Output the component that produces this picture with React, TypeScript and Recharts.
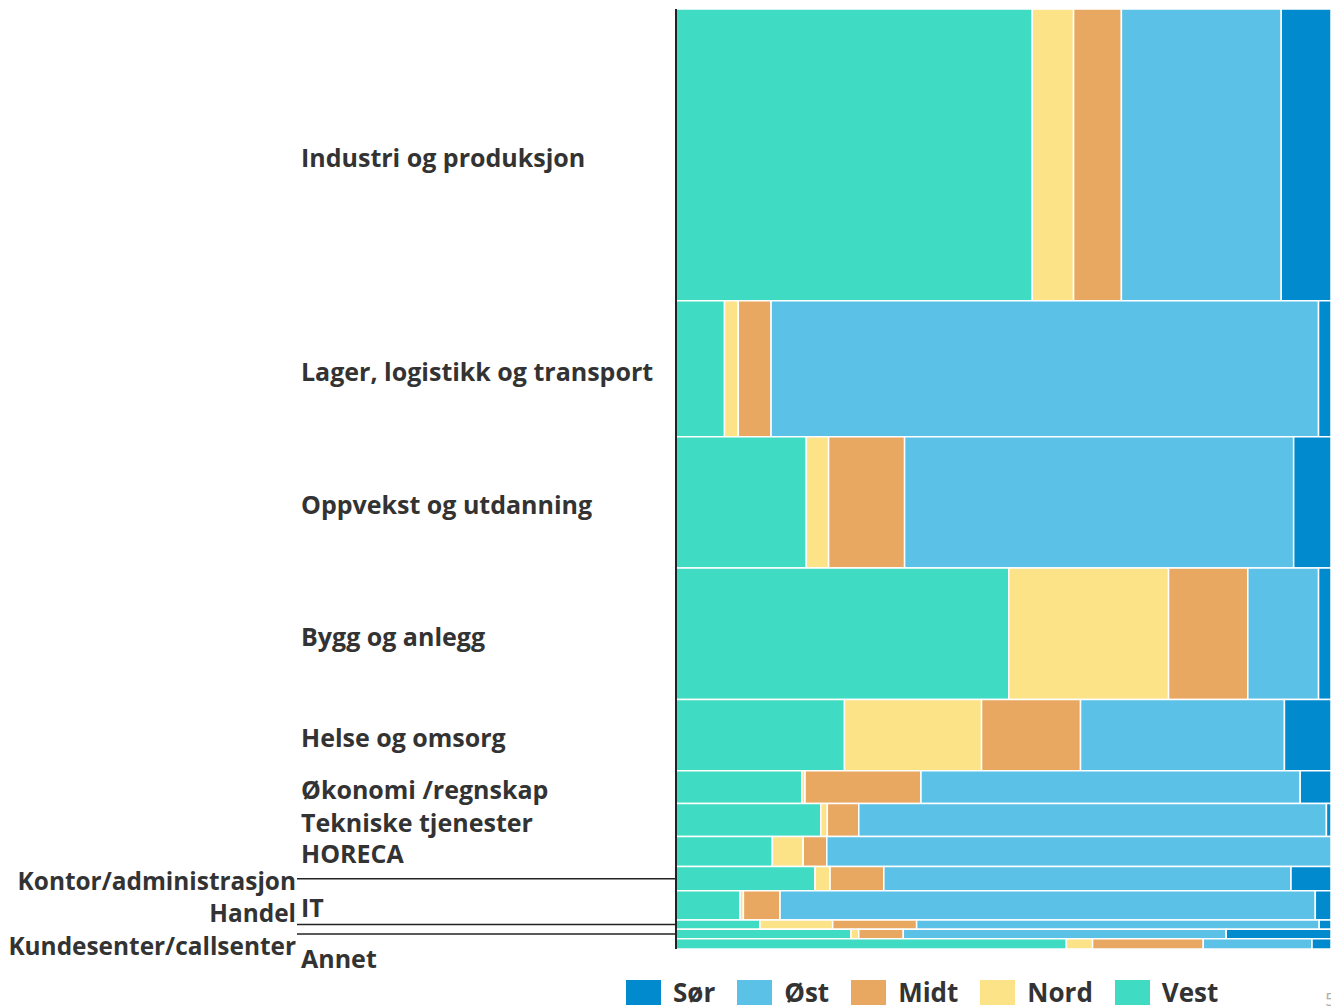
import { ComposedChart, XAxis, YAxis, ReferenceArea, Legend } from "recharts"

// sectors, top to bottom
const sectors = [
  "Industri og produksjon",
  "Lager, logistikk og transport",
  "Oppvekst og utdanning",
  "Bygg og anlegg",
  "Helse og omsorg",
  "Økonomi /regnskap",
  "Tekniske tjenester",
  "HORECA",
  "Kontor/administrasjon",
  "IT",
  "Handel",
  "Kundesenter/callsenter",
  "Annet",
]

// share of all respondents (row height), %
const sectorShare = [31.1, 14.5, 14.0, 14.0, 7.6, 3.5, 3.5, 3.2, 2.6, 3.1, 1.0, 1.0, 1.1]

// share of each region within a sector, %
const vest = [54.4, 7.4, 19.9, 50.8, 25.7, 19.2, 22.1, 14.7, 21.2, 9.8, 12.8, 26.7, 59.6]
const nord = [6.3, 2.1, 3.4, 24.4, 20.9, 0.5, 1.0, 4.7, 2.3, 0.5, 11.1, 1.2, 4.0]
const midt = [7.3, 5.0, 11.6, 12.1, 15.1, 17.7, 4.8, 3.6, 8.2, 5.6, 12.8, 6.8, 16.9]
const ost = [24.4, 83.5, 59.4, 10.8, 31.1, 57.9, 71.4, 76.9, 62.1, 81.8, 61.4, 49.3, 16.6]
const sor = [7.6, 1.9, 5.7, 1.9, 7.1, 4.7, 0.7, 0.0, 6.1, 2.4, 1.8, 16.0, 2.9]

const regions = ["Vest", "Nord", "Midt", "Øst", "Sør"]
const regionValues = [vest, nord, midt, ost, sor]
const regionColors = ["#3fdbc3", "#fce388", "#e8a862", "#5bc1e7", "#018bce"]

const total = sectorShare.reduce((a, b) => a + b, 0)

const rows = sectors.map((name, i) => {
  const top = sectorShare.slice(0, i).reduce((a, b) => a + b, 0)
  return { name, top, bottom: top + sectorShare[i], mid: top + sectorShare[i] / 2 }
})

const cells = rows.flatMap((row, i) => {
  const rowSum = regionValues.reduce((s, vals) => s + vals[i], 0)
  let acc = 0
  return regionValues.map((vals, r) => {
    const x1 = (acc / rowSum) * 100
    acc += vals[i]
    const x2 = (acc / rowSum) * 100
    return { key: `${i}-${r}`, x1, x2, y1: row.top, y2: row.bottom, fill: regionColors[r] }
  })
})

const font = "'Open Sans', 'Noto Sans', sans-serif"
const textColor = "#333333"

// labels placed left of the axis with a leader line
const outside = ["Kontor/administrasjon", "Handel", "Kundesenter/callsenter"]
const labelShift: Record<string, number> = {
  "Kontor/administrasjon": 2,
  Handel: -12,
  "Kundesenter/callsenter": 12,
  Annet: 14,
}

function SectorTick(props: any) {
  const { x, y, payload } = props
  const row = rows.find((r) => Math.abs(r.mid - payload.value) < 1e-9)
  if (!row) return null
  const dy = labelShift[row.name] ?? 2
  const isOutside = outside.includes(row.name)
  return (
    <g>
      {isOutside && <line x1={x - 379} x2={x} y1={y} y2={y} stroke="#222" strokeWidth={1.5} />}
      <text
        x={isOutside ? x - 380 : x - 375}
        y={y + dy}
        textAnchor={isOutside ? "end" : "start"}
        dominantBaseline="central"
        fontFamily={font}
        fontWeight={700}
        fontSize={isOutside ? 24.4 : 25}
        fill={textColor}
      >
        {row.name}
      </text>
    </g>
  )
}

function RegionLegend() {
  const order = [4, 3, 2, 1, 0]
  return (
    <div style={{ display: "flex", alignItems: "center", gap: 22, fontFamily: font, lineHeight: "28px" }}>
      {order.map((r) => (
        <div key={regions[r]} style={{ display: "flex", alignItems: "center", gap: 12 }}>
          <span style={{ width: 35, height: 25, background: regionColors[r], display: "inline-block" }} />
          <span style={{ fontSize: 26, fontWeight: 700, color: textColor }}>{regions[r]}</span>
        </div>
      ))}
    </div>
  )
}

export default function App() {
  return (
    <div style={{ position: "relative", width: 1331, height: 998, fontFamily: font }}>
      <ComposedChart
        width={1331}
        height={998}
        data={rows}
        margin={{ top: 1, right: 8, bottom: 57, left: 0 }}
        style={{ overflow: "visible" }}
      >
        <XAxis type="number" dataKey="mid" domain={[0, 100]} hide />
        <YAxis
          type="number"
          dataKey="mid"
          domain={[0, total]}
          reversed
          ticks={rows.map((r) => r.mid)}
          interval={0}
          width={668}
          tickLine={false}
          tickSize={0}
          tickMargin={0}
          axisLine={{ stroke: "#222", strokeWidth: 2 }}
          tick={<SectorTick />}
        />
        {cells.map((c) => (
          <ReferenceArea
            key={c.key}
            x1={c.x1}
            x2={c.x2}
            y1={c.y1}
            y2={c.y2}
            fill={c.fill}
            fillOpacity={1}
            stroke="#ffffff"
            strokeWidth={1.5}
            ifOverflow="visible"
          />
        ))}
        <Legend
          layout="horizontal"
          verticalAlign="middle"
          align="center"
          content={() => <RegionLegend />}
          wrapperStyle={{ left: 618, top: 970, width: 680 }}
        />
      </ComposedChart>
      <span
        style={{
          position: "absolute",
          left: 1317,
          top: 982,
          fontSize: 19,
          lineHeight: "18px",
          color: "#b0b0b0",
        }}
      >
        5
      </span>
    </div>
  )
}
